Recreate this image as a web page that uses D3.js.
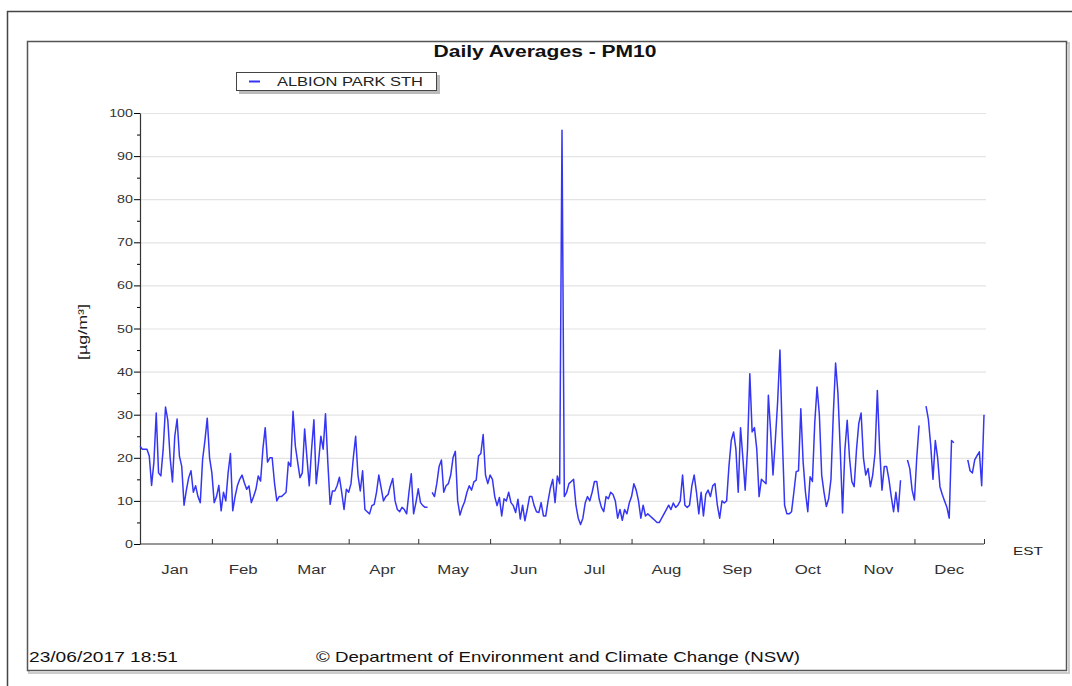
<!DOCTYPE html>
<html>
<head>
<meta charset="utf-8">
<script src="https://cdn.jsdelivr.net/npm/d3@7"></script>
<style>
  body { margin: 0; background: #fff; }
  text { font-family: "Liberation Sans", Arial, sans-serif; }
</style>
</head>
<body>
<div id="chart-area"></div>
<script>
// daily PM10 averages, one array per month (null = no data)
const jan = [22.7, 22, 22, 22, 20.4, 13.6, 19, 30.4, 16.5, 15.8, 22, 31.8, 28.7, 20, 14.4, 25, 29, 20.4, 18, 9, 12.5, 15.4, 17, 12, 13.5, 11, 9.6, 19.6, 24, 29.2, 20];
const feb = [16.5, 9.6, 11, 13.6, 7.7, 12, 10, 16.5, 21, 7.7, 11, 13.5, 15, 16, 14.2, 12.7, 13.5, 9.6, 11, 12.7, 15.8, 14.6, 22, 27, 19, 20, 20, 14.2];
const mar = [10, 11, 11, 11.5, 12, 19, 18, 30.8, 22.7, 19, 15.4, 16.5, 26.7, 20, 13.5, 22, 28.8, 14, 19, 25, 22, 30.2, 19, 9.2, 12.3, 12.3, 13.5, 15.5, 12, 8, 12.7];
const apr = [12, 14, 20, 25, 16, 12.3, 17, 8, 7.5, 7, 8.9, 9.2, 12, 16, 13, 10, 11, 11.5, 13.5, 15.2, 10, 8, 7.5, 8.5, 8, 7, 12, 16.3, 7, 9.6];
const may = [12.8, 9.6, 8.9, 8.5, 8.5, null, 12, 11, 14, 18, 19.5, 12, 13.5, 14, 16, 20, 21.5, 10, 6.7, 8.5, 9.8, 12, 13.5, 12.5, 14.4, 14.8, 20.4, 21, 25.4, 16, 14];
const jun = [16, 15, 11, 8.9, 10.8, 6.5, 10.5, 10, 12, 9.6, 8.9, 7.3, 10.4, 5.8, 9, 5.4, 8, 11, 11, 8.9, 7.5, 7.3, 9.6, 6.5, 6.5, 10, 13, 15, 9.6, 15.8];
const jul = [14, 96, 11, 12, 14, 14.5, 15, 9, 6, 4.5, 6, 9.5, 11, 10, 12, 14.5, 14.5, 10.5, 8.5, 7.5, 11, 10.5, 12, 11.5, 10, 6, 8, 5.5, 8, 7, 9.5];
const aug = [11, 14, 12.5, 10, 6, 9, 6.5, 7, 6.5, 6, 5.5, 5, 5, 6, 7, 8, 9, 8, 9.5, 8.5, 9, 10, 16, 9, 8.5, 9, 13.5, 16, 12, 7, 12];
const sep = [6.5, 11.5, 12.5, 11, 13.5, 14, 9, 6, 10, 9.5, 10, 18, 24, 26, 22, 12, 27, 20, 12.5, 22, 39.5, 26, 27, 22, 11, 15, 14.5, 14, 34.5, 26];
const oct = [16, 24, 33, 45, 25, 9, 7, 7, 7.5, 12, 16.8, 17, 31.4, 19, 12, 7.5, 15.6, 14.5, 28, 36.4, 30, 16, 12, 8.7, 10.5, 15, 30, 42, 35, 22, 7.2];
const nov = [21.8, 28.7, 20, 14.5, 13.3, 21.8, 28, 30.4, 20, 16, 17.5, 13.3, 16, 21, 35.6, 22, 12.5, 18, 18, 15, 11, 7.5, 12, 7.5, 14.8, null, null, 19.5, 17.5, 12.5];
const dec = [10.2, 20, 27.5, null, null, 32, 29, 23, 15, 24, 20, 13.3, 11.5, 10, 8.5, 6, 24, 23.5, null, null, null, null, null, 19.5, 17, 16.5, 19.5, 20.5, 21.4, 13.5, 30];

const months = [jan, feb, mar, apr, may, jun, jul, aug, sep, oct, nov, dec];
const monthNames = ["Jan", "Feb", "Mar", "Apr", "May", "Jun", "Jul", "Aug", "Sep", "Oct", "Nov", "Dec"];
const yTicks = [0, 10, 20, 30, 40, 50, 60, 70, 80, 90, 100];
const YEAR = 2017;

// build date/value rows
const data = [];
months.forEach((vals, m) => {
  vals.forEach((v, i) => data.push({ date: new Date(YEAR, m, i + 1), value: v }));
});

const W = 1072, H = 686;
const PLOT = { LEFT: 140, RIGHT: 984, TOP: 113, BOTTOM: 544 };
const FONT = "Liberation Sans, Arial, sans-serif";

// the original image is a bit wide: stretch text horizontally
function widen(sel, factor) {
  sel.each(function () {
    const len = this.getComputedTextLength();
    d3.select(this).attr("textLength", len * factor).attr("lengthAdjust", "spacingAndGlyphs");
  });
}
function fit(sel, width) {
  sel.attr("textLength", width).attr("lengthAdjust", "spacingAndGlyphs");
}

const svg = d3.select("#chart-area").append("svg")
  .attr("width", W)
  .attr("height", H);

// outer frame (runs off the page)
svg.append("rect")
  .attr("x", 7.5).attr("y", 11.5)
  .attr("width", 1100).attr("height", 700)
  .attr("fill", "none")
  .attr("stroke", "#444")
  .attr("stroke-width", 1.5);

// inner frame with soft shadow
svg.append("rect")
  .attr("x", 29).attr("y", 43)
  .attr("width", 1040).attr("height", 630)
  .attr("fill", "none")
  .attr("stroke", "#ccc")
  .attr("stroke-width", 2);
svg.append("rect")
  .attr("x", 27.5).attr("y", 41.5)
  .attr("width", 1039).attr("height", 629)
  .attr("fill", "#fff")
  .attr("stroke", "#555")
  .attr("stroke-width", 1.5);

// scales
const x = d3.scaleTime()
  .domain([new Date(YEAR, 0, 1), new Date(YEAR, 11, 31)])
  .range([PLOT.LEFT, PLOT.RIGHT]);
const y = d3.scaleLinear()
  .domain([0, 100])
  .range([PLOT.BOTTOM, PLOT.TOP]);

// gridlines
const grid = svg.append("g")
  .attr("transform", `translate(${PLOT.LEFT}, 0)`)
  .call(d3.axisRight(y).tickValues(yTicks.slice(1)).tickSize(PLOT.RIGHT + 2 - PLOT.LEFT).tickFormat(""));
grid.select(".domain").remove();
grid.selectAll("line").attr("stroke", "#e4e4e4").attr("stroke-width", 1.2);

// y axis: major ticks with labels, minor ticks at 5s
const yAxis = svg.append("g")
  .attr("transform", `translate(${PLOT.LEFT}, 0)`)
  .call(d3.axisLeft(y).tickValues(yTicks).tickSize(6).tickSizeOuter(0).tickPadding(1));
yAxis.selectAll("text")
  .attr("font-size", "11px")
  .attr("fill", "#333")
  .style("font-family", FONT)
  .call(widen, 1.3);
const yMinor = svg.append("g")
  .attr("transform", `translate(${PLOT.LEFT}, 0)`)
  .call(d3.axisLeft(y).tickValues(d3.range(5, 100, 10)).tickSize(3).tickFormat("").tickSizeOuter(0));
yMinor.select(".domain").remove();
svg.selectAll(".domain").attr("stroke", "#333").attr("stroke-width", 1.2);

// x axis: ticks at month starts pointing up
const monthStarts = d3.range(1, 12).map((m) => new Date(YEAR, m, 1)).concat([new Date(YEAR, 11, 31)]);
const xAxis = svg.append("g")
  .attr("transform", `translate(0, ${PLOT.BOTTOM})`)
  .call(d3.axisTop(x).tickValues(monthStarts).tickSize(5).tickSizeOuter(0).tickFormat(""));
xAxis.select(".domain").attr("d", `M${PLOT.LEFT},0H${PLOT.RIGHT}`).attr("stroke", "#333").attr("stroke-width", 1.2);
xAxis.selectAll("line").attr("stroke", "#333");

// month labels centred in each month
const monthMids = d3.range(12).map((m) => {
  const a = new Date(YEAR, m, 1), b = new Date(YEAR, m + 1, 1);
  return new Date((+a + +b) / 2 - 86400000 * 0.7);
});
const xLabels = svg.append("g")
  .attr("transform", `translate(0, ${PLOT.BOTTOM})`)
  .call(d3.axisBottom(x)
    .tickValues(monthMids)
    .tickSize(0)
    .tickPadding(21)
    .tickFormat((d) => monthNames[d.getMonth()]));
xLabels.select(".domain").remove();
xLabels.selectAll("text")
  .attr("font-size", "12px")
  .attr("fill", "#333")
  .style("font-family", FONT)
  .call(widen, 1.4);

// line
const line = d3.line()
  .defined((d) => d.value != null)
  .x((d) => x(d.date))
  .y((d) => y(d.value));

svg.append("path")
  .datum(data)
  .attr("fill", "none")
  .attr("stroke", "#3535f5")
  .attr("stroke-width", 1.5)
  .attr("stroke-linejoin", "round")
  .attr("d", line);

// title
svg.append("text")
  .attr("x", 545).attr("y", 57)
  .attr("text-anchor", "middle")
  .attr("font-size", "16px")
  .attr("font-weight", "bold")
  .attr("fill", "#111")
  .text("Daily Averages - PM10")
  .call(fit, 223);

// legend
svg.append("rect")
  .attr("x", 239).attr("y", 75)
  .attr("width", 201).attr("height", 19)
  .attr("fill", "#bbb");
svg.append("rect")
  .attr("x", 236.5).attr("y", 72.5)
  .attr("width", 200).attr("height", 18)
  .attr("fill", "#fff")
  .attr("stroke", "#444");
svg.append("line")
  .attr("x1", 249).attr("x2", 260)
  .attr("y1", 81.5).attr("y2", 81.5)
  .attr("stroke", "#3535f5")
  .attr("stroke-width", 2);
svg.append("text")
  .attr("x", 277).attr("y", 86)
  .attr("font-size", "12px")
  .attr("fill", "#222")
  .text("ALBION PARK STH")
  .call(fit, 146);

// y axis label
svg.append("text")
  .attr("transform", "rotate(-90)")
  .attr("x", -332).attr("y", 87)
  .attr("text-anchor", "middle")
  .attr("font-size", "12px")
  .attr("fill", "#222")
  .text("[µg/m³]")
  .call(fit, 56);

// time zone label
svg.append("text")
  .attr("x", 1028).attr("y", 555)
  .attr("text-anchor", "middle")
  .attr("font-size", "11px")
  .attr("fill", "#222")
  .text("EST")
  .call(fit, 30);

// footer
svg.append("text")
  .attr("x", 29).attr("y", 662)
  .attr("font-size", "15px")
  .attr("fill", "#111")
  .text("23/06/2017 18:51")
  .call(fit, 149);
svg.append("text")
  .attr("x", 316).attr("y", 662)
  .attr("font-size", "15px")
  .attr("fill", "#111")
  .text("© Department of Environment and Climate Change (NSW)")
  .call(fit, 484);
</script>
</body>
</html>
